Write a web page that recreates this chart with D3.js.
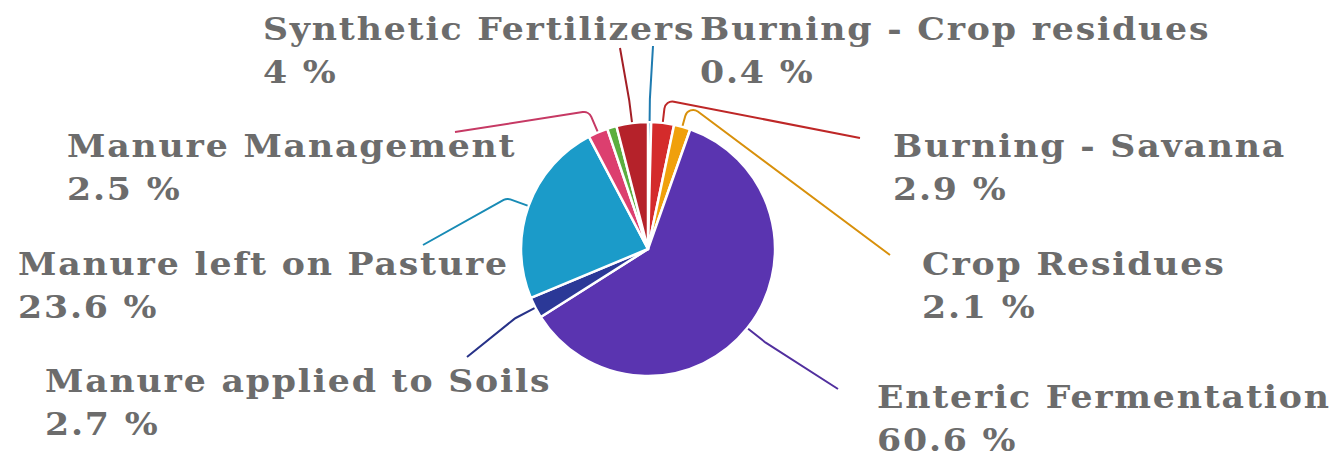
<!DOCTYPE html>
<html>
<head>
<meta charset="utf-8">
<script src="https://cdn.jsdelivr.net/npm/d3@7"></script>
<style>
  html, body { margin: 0; padding: 0; background: #fff; }
  svg { display: block; }
</style>
</head>
<body>
<div id="chart"></div>
<script>
// data
const categories = [
  'Burning - Crop residues',
  'Burning - Savanna',
  'Crop Residues',
  'Enteric Fermentation',
  'Manure applied to Soils',
  'Manure left on Pasture',
  'Manure Management',
  'Rice Cultivation',
  'Synthetic Fertilizers'
]
const shares = [0.4, 2.9, 2.1, 60.6, 2.7, 23.6, 2.5, 1.2, 4]
const labelled = [true, true, true, true, true, true, true, false, true]

const colors = ['#2389c4', '#d42b2b', '#f0a00c', '#5a34b0', '#2b3897',
  '#1b9bc9', '#dc3f6f', '#5cae3f', '#b5222a']

// label anchors: text x, first baseline, leader end x/y
const labelPos = {
  'Burning - Crop residues': [700, 40, 653, 46],
  'Burning - Savanna': [893, 157, 860, 138],
  'Crop Residues': [922, 275, 890, 255],
  'Enteric Fermentation': [877, 408, 838, 389],
  'Manure applied to Soils': [45, 392, 467, 357],
  'Manure left on Pasture': [18, 275, 423, 245],
  'Manure Management': [67, 157, 455, 132],
  'Synthetic Fertilizers': [263, 40, 620, 48]
}

const width = 1338, height = 458
const cx = 648, cy = 249, radius = 127, elbowR = 150
const stretch = 1.12

const svg = d3.select('#chart')
  .append('svg')
  .attr('width', width)
  .attr('height', height)

const rows = categories.map((c, i) => ({
  name: c, value: shares[i], color: colors[i], show: labelled[i]
}))

const pie = d3.pie().sort(null).value(d => d.value)
const arc = d3.arc().innerRadius(0).outerRadius(radius)
const arcs = pie(rows)

const g = svg.append('g').attr('transform', `translate(${cx},${cy})`)

g.selectAll('path.slice')
  .data(arcs)
  .enter()
  .append('path')
  .attr('class', 'slice')
  .attr('d', arc)
  .attr('fill', d => d.data.color)
  .attr('stroke', '#fff')
  .attr('stroke-width', 2.5)
  .attr('stroke-linejoin', 'round')

const pt = (a, r) => [Math.sin(a) * r, -Math.cos(a) * r]

// leader lines
g.selectAll('path.leader')
  .data(arcs.filter(d => d.data.show))
  .enter()
  .append('path')
  .attr('class', 'leader')
  .attr('fill', 'none')
  .attr('stroke', d => d3.color(d.data.color).darker(0.3))
  .attr('stroke-width', 2)
  .attr('d', d => {
    const mid = (d.startAngle + d.endAngle) / 2
    const s = pt(mid, radius + 1)
    const e = pt(mid, elbowR)
    const lp = labelPos[d.data.name]
    const end = [lp[2] - cx, lp[3] - cy]
    const p = d3.path()
    p.moveTo(s[0], s[1])
    p.arcTo(e[0], e[1], end[0], end[1], 8)
    p.lineTo(end[0], end[1])
    return p.toString()
  })

// labels
const labels = svg.selectAll('text.lbl')
  .data(rows.filter(d => d.show))
  .enter()
  .append('text')
  .attr('class', 'lbl')
  .attr('transform', d => `translate(${labelPos[d.name][0]},${labelPos[d.name][1]}) scale(${stretch},1)`)
  .attr('font-family', '"DejaVu Serif", serif')
  .attr('font-weight', 'bold')
  .attr('font-size', 31)
  .attr('letter-spacing', 1.6)
  .attr('fill', '#6c6c6c')

labels.append('tspan')
  .attr('x', 0)
  .attr('y', 0)
  .text(d => d.name)

labels.append('tspan')
  .attr('x', 0)
  .attr('y', 43)
  .text(d => `${d.value} %`)
</script>
</body>
</html>
